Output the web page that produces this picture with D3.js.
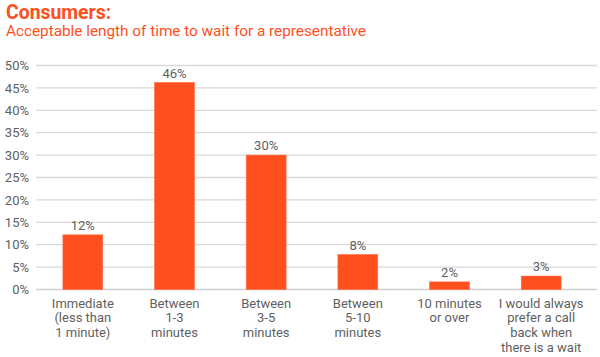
<!DOCTYPE html>
<html><head><meta charset="utf-8">
<script src="https://cdn.jsdelivr.net/npm/d3@7"></script>
<style>
body{margin:0;background:#fff;}
svg{display:block;font-family:Roboto, "Noto Sans", sans-serif;}
</style></head>
<body><svg id="c" width="600" height="357"></svg>
<script>
const categories = [
  ["Immediate","(less than","1 minute)"],
  ["Between","1-3","minutes"],
  ["Between","3-5","minutes"],
  ["Between","5-10","minutes"],
  ["10 minutes","or over"],
  ["I would always","prefer a call","back when","there is a wait"]
];
const values = [12.2, 46.2, 30.0, 7.8, 1.7, 3.0];
const valueLabels = ["12%","46%","30%","8%","2%","3%"];
const yTicks = [0,5,10,15,20,25,30,35,40,45,50];
const title = "Consumers:";
const subtitle = "Acceptable length of time to wait for a representative";

const svg = d3.select("#c");
const orange = "#FF4F1F";
const y = d3.scaleLinear().domain([0,50]).range([289.5,65.5]);
const x = d3.scaleBand().domain(d3.range(categories.length)).range([37,587]).paddingInner(0.565).paddingOuter(0.2825);

svg.append("text").attr("x",6).attr("y",18.5).attr("fill",orange)
  .attr("font-size",19.4).attr("font-weight","bold").text(title);
svg.append("text").attr("x",6).attr("y",36).attr("fill",orange)
  .attr("font-size",15.3).text(subtitle);

// grid
svg.append("g").selectAll("line").data(yTicks).join("line")
  .attr("x1",36).attr("x2",597)
  .attr("y1",d=>y(d)).attr("y2",d=>y(d))
  .attr("stroke",d=>d===0?"#cfcfcf":"#d9d9d9").attr("stroke-width",1.3);

// y axis labels
const yAxis = d3.axisLeft(y).tickValues(yTicks).tickFormat(d=>d+"%").tickSize(0).tickPadding(0);
const ga = svg.append("g").attr("transform","translate(29,0)").call(yAxis);
ga.select(".domain").remove();
ga.selectAll("text").attr("font-size",13).attr("fill","#5f5f5f").attr("font-family","Roboto, sans-serif");

// bars
svg.append("g").selectAll("rect").data(values).join("rect")
  .attr("x",(d,i)=>x(i)).attr("width",x.bandwidth())
  .attr("y",d=>y(d)).attr("height",d=>y(0)-y(d))
  .attr("fill",orange).attr("stroke","#FF6A40").attr("stroke-width",0.6);

// value labels
svg.append("g").selectAll("text").data(values).join("text")
  .attr("x",(d,i)=>x(i)+x.bandwidth()/2).attr("y",d=>y(d)-5)
  .attr("text-anchor","middle").attr("font-size",13).attr("fill","#5f5f5f")
  .text((d,i)=>valueLabels[i]);

// category labels
const cg = svg.append("g").selectAll("text").data(categories).join("text")
  .attr("x",(d,i)=>x(i)+x.bandwidth()/2).attr("y",307.5)
  .attr("text-anchor","middle").attr("font-size",13).attr("fill","#5f5f5f");
cg.selectAll("tspan").data((d,i)=>d.map(t=>({t,i}))).join("tspan")
  .attr("x",d=>x(d.i)+x.bandwidth()/2).attr("dy",(d,j)=>j===0?0:14.7)
  .text(d=>d.t);
</script></body></html>
